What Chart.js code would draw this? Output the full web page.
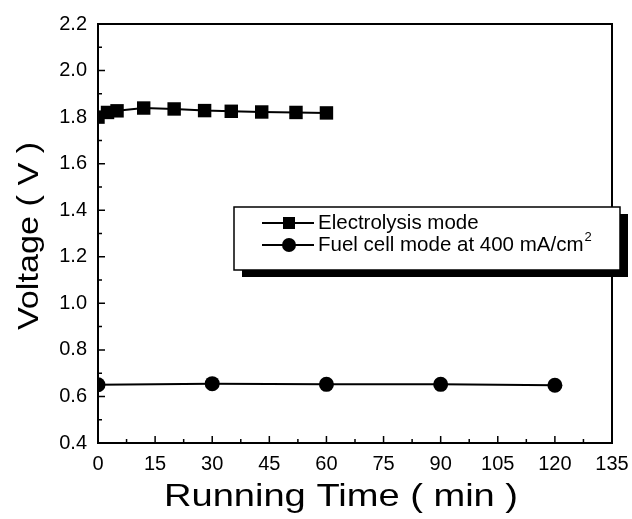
<!DOCTYPE html>
<html>
<head>
<meta charset="utf-8">
<script src="https://cdn.jsdelivr.net/npm/chart.js@4/dist/chart.umd.min.js"></script>
<style>
  html, body { margin: 0; padding: 0; background: #fff; }
  #wrap { width: 632px; height: 519px; }
</style>
</head>
<body>
<div id="wrap"><canvas id="grafico" width="632" height="519"></canvas></div>
<script>
// datos
const tiempoElectrolisis = [0, 2.5, 5, 12, 20, 28, 35, 43, 52, 60];
const voltajeElectrolisis = [1.80, 1.82, 1.827, 1.839, 1.835, 1.828, 1.825, 1.822, 1.82, 1.818];
const tiempoCelda = [0, 30, 60, 90, 120];
const voltajeCelda = [0.65, 0.655, 0.652, 0.652, 0.648];
const etiquetas = ['Electrolysis mode', 'Fuel cell mode at 400 mA/cm'];
const tituloX = 'Running Time ( min )';
const tituloY = 'Voltage ( V )';

const fuente = "'Liberation Sans', Arial, sans-serif";

const armarPuntos = (xs, ys) => xs.map((x, i) => ({ x: x, y: ys[i] }));

// marco del grafico y marcas hacia adentro
const marco = {
  id: 'marco',
  afterDatasetsDraw(chart) {
    const { ctx, chartArea: a, scales } = chart;
    ctx.save();
    ctx.strokeStyle = '#000';
    ctx.lineWidth = 2;
    ctx.strokeRect(a.left, a.top, a.right - a.left, a.bottom - a.top);
    ctx.lineWidth = 1.5;
    ctx.beginPath();
    for (let v = 0; v <= 135; v += 7.5) {
      const px = scales.x.getPixelForValue(v);
      const largo = (v % 15 === 0) ? 7 : 4;
      ctx.moveTo(px, a.bottom);
      ctx.lineTo(px, a.bottom - largo);
    }
    for (let k = 0; k <= 18; k++) {
      const v = 0.4 + k * 0.1;
      const py = scales.y.getPixelForValue(v);
      const largo = (k % 2 === 0) ? 7 : 4;
      ctx.moveTo(a.left, py);
      ctx.lineTo(a.left + largo, py);
    }
    ctx.stroke();
    ctx.restore();
  }
};

// titulos de ejes, un poco estirados como en el original
const titulos = {
  id: 'titulos',
  afterDraw(chart) {
    const ctx = chart.ctx;
    ctx.save();
    ctx.fillStyle = '#000';
    ctx.textAlign = 'center';
    ctx.textBaseline = 'middle';
    ctx.font = '32px ' + fuente;
    ctx.translate(341, 497);
    ctx.scale(1.19, 1);
    ctx.fillText(tituloX, 0, 0);
    ctx.restore();

    ctx.save();
    ctx.fillStyle = '#000';
    ctx.textAlign = 'center';
    ctx.textBaseline = 'middle';
    ctx.font = '30px ' + fuente;
    ctx.translate(30, 236);
    ctx.rotate(-Math.PI / 2);
    ctx.scale(1.14, 1);
    ctx.fillText(tituloY, 0, 0);
    ctx.restore();
  }
};

// leyenda con sombra
const leyenda = {
  id: 'leyenda',
  afterDraw(chart) {
    const ctx = chart.ctx;
    const x0 = 234, y0 = 207, w = 386, h = 63;
    ctx.save();
    ctx.fillStyle = '#000';
    ctx.fillRect(x0 + 8, y0 + 7, w, h);
    ctx.fillStyle = '#fff';
    ctx.fillRect(x0, y0, w, h);
    ctx.strokeStyle = '#000';
    ctx.lineWidth = 1.5;
    ctx.strokeRect(x0, y0, w, h);

    const filas = [223, 245];
    ctx.lineWidth = 2;
    filas.forEach((yy, i) => {
      ctx.beginPath();
      ctx.moveTo(262, yy);
      ctx.lineTo(314, yy);
      ctx.stroke();
      ctx.fillStyle = '#000';
      if (i === 0) {
        ctx.fillRect(283, yy - 6, 12, 12);
      } else {
        ctx.beginPath();
        ctx.arc(289, yy, 7, 0, Math.PI * 2);
        ctx.fill();
      }
      ctx.font = '20.5px ' + fuente;
      ctx.textBaseline = 'middle';
      ctx.textAlign = 'left';
      ctx.fillText(etiquetas[i], 318, yy);
      if (i === 1) {
        const ancho = ctx.measureText(etiquetas[i]).width;
        ctx.font = '13px ' + fuente;
        ctx.fillText('2', 318 + ancho + 1, yy - 8);
      }
    });
    ctx.restore();
  }
};

const ctx = document.getElementById('grafico');
new Chart(ctx, {
  type: 'line',
  data: {
    datasets: [
      {
        label: etiquetas[0],
        data: armarPuntos(tiempoElectrolisis, voltajeElectrolisis),
        borderColor: '#000',
        backgroundColor: '#000',
        borderWidth: 2,
        pointStyle: 'rect',
        pointRadius: 9.5,
        pointBorderWidth: 0,
        tension: 0
      },
      {
        label: etiquetas[1],
        data: armarPuntos(tiempoCelda, voltajeCelda),
        borderColor: '#000',
        backgroundColor: '#000',
        borderWidth: 2,
        pointStyle: 'circle',
        pointRadius: 7.5,
        pointBorderWidth: 0,
        tension: 0
      }
    ]
  },
  options: {
    responsive: false,
    animation: false,
    layout: { padding: { top: 24, right: 20, left: 0, bottom: 0 } },
    plugins: { legend: { display: false }, tooltip: { enabled: false } },
    scales: {
      x: {
        type: 'linear',
        min: 0,
        max: 135,
        afterFit: (s) => { s.height = 76; s.paddingRight = 0; s.paddingLeft = 0; },
        grid: { display: false, drawTicks: false },
        border: { display: false },
        ticks: {
          stepSize: 15,
          padding: 9,
          color: '#000',
          font: { family: fuente, size: 20 },
          maxRotation: 0
        }
      },
      y: {
        min: 0.4,
        max: 2.2,
        afterFit: (s) => { s.width = 98; s.paddingTop = 0; s.paddingBottom = 0; },
        grid: { display: false, drawTicks: false },
        border: { display: false },
        ticks: {
          stepSize: 0.2,
          padding: 11,
          color: '#000',
          font: { family: fuente, size: 20 },
          callback: (v) => v.toFixed(1)
        }
      }
    }
  },
  plugins: [marco, titulos, leyenda]
});
</script>
</body>
</html>
